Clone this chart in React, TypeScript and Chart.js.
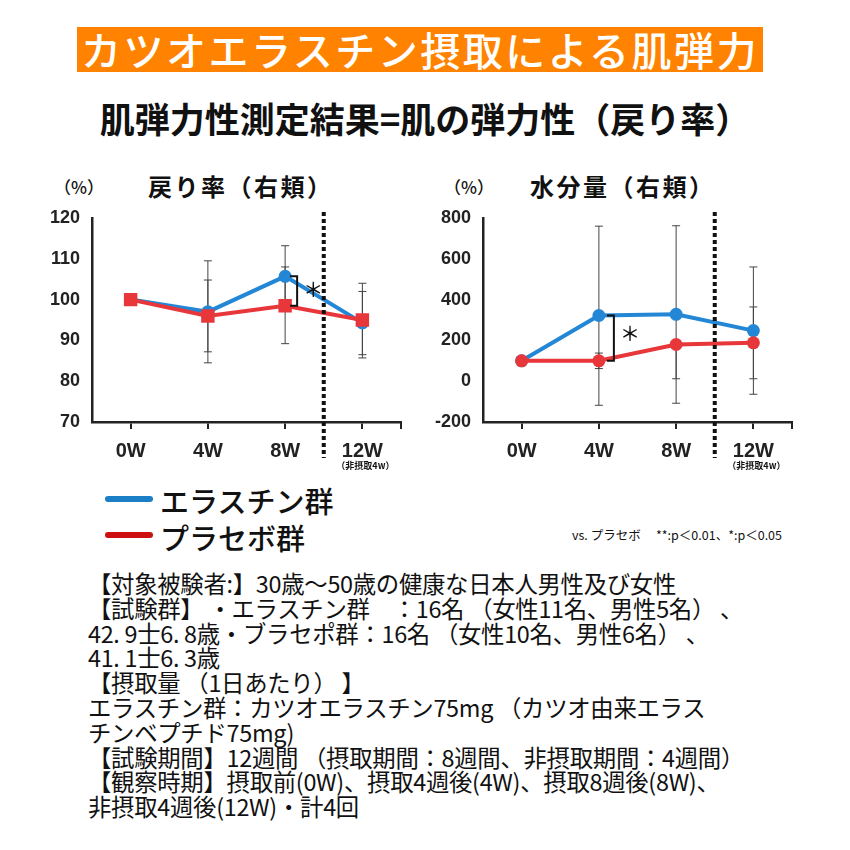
import React, { useEffect, useRef } from "react";
import { Chart, registerables } from "chart.js";
Chart.register(...registerables);

// ---------- data ----------
const weeks = ["0W", "4W", "8W", "12W"];

const reboundMin = 70;
const reboundMax = 120;
const reboundStep = 10;
const elastinRebound = [100, 97, 105.7, 94.3];
const elastinReboundHigh = [100, 109.5, 113.2, 104];
const elastinReboundLow = [100, 84.5, 98.2, 85.7];
const placeboRebound = [100, 96, 98.5, 95];
const placeboReboundHigh = [100, 104.8, 108, 102];
const placeboReboundLow = [100, 87.2, 89.2, 86.5];

const moistureMin = -200;
const moistureMax = 800;
const moistureStep = 200;
const elastinMoisture = [100, 322, 328, 248];
const elastinMoistureHigh = [100, 760, 762, 560];
const elastinMoistureLow = [100, -118, -108, -64];
const placeboMoisture = [100, 100, 180, 188];
const placeboMoistureHigh = [100, 138, 180, 364];
const placeboMoistureLow = [100, 62, 12, 12];

const seriesNames = ["エラスチン群", "プラセボ群"];
const offPeriodNote = "（非摂取4w）";

const BLUE = "#2387d6";
const RED = "#e8373b";
const AXIS_FONT = "'Liberation Sans', Arial, sans-serif";
const JP = "'Noto Sans CJK JP', 'Noto Sans', sans-serif";

const extrasPlugin = {
  id: "extras",
  beforeDatasetsDraw(chart: any, _args: any, opts: any) {
    const ctx = chart.ctx;
    const y = chart.scales.y;
    ctx.save();
    ctx.strokeStyle = "#444";
    ctx.lineWidth = 1;
    (opts.errors || []).forEach((err: any, di: number) => {
      const meta = chart.getDatasetMeta(di);
      meta.data.forEach((pt: any, j: number) => {
        const hi = y.getPixelForValue(err.high[j]);
        const lo = y.getPixelForValue(err.low[j]);
        const v = y.getPixelForValue(err.value[j]);
        const x = pt.x;
        ctx.beginPath();
        ctx.moveTo(x, hi);
        ctx.lineTo(x, lo);
        if (Math.abs(hi - v) > 0.5) {
          ctx.moveTo(x - 4, hi);
          ctx.lineTo(x + 4, hi);
        }
        if (Math.abs(lo - v) > 0.5) {
          ctx.moveTo(x - 4, lo);
          ctx.lineTo(x + 4, lo);
        }
        ctx.stroke();
      });
    });
    ctx.restore();
  },
  afterDatasetsDraw(chart: any, _args: any, opts: any) {
    const ctx = chart.ctx;
    const xs = chart.scales.x;
    const ys = chart.scales.y;
    const area = chart.chartArea;
    ctx.save();
    // divider between ingestion and non-ingestion period
    const dx = (xs.getPixelForValue(2) + xs.getPixelForValue(3)) / 2;
    ctx.strokeStyle = "#111";
    ctx.lineWidth = 4;
    ctx.setLineDash([4, 3]);
    ctx.beginPath();
    ctx.moveTo(dx, area.top - 6);
    ctx.lineTo(dx, area.bottom + 36);
    ctx.stroke();
    ctx.setLineDash([]);
    // end tick of x axis
    ctx.lineWidth = 2;
    ctx.strokeStyle = "#222";
    ctx.beginPath();
    ctx.moveTo(area.right, area.bottom);
    ctx.lineTo(area.right, area.bottom + 7);
    ctx.stroke();
    // significance bracket
    const b = opts.bracket;
    if (b) {
      const bx = xs.getPixelForValue(b.index) + b.dx;
      const y1 = ys.getPixelForValue(b.top);
      const y2 = ys.getPixelForValue(b.bottom);
      ctx.strokeStyle = "#111";
      ctx.lineWidth = 2;
      ctx.beginPath();
      ctx.moveTo(bx - 7, y1);
      ctx.lineTo(bx, y1);
      ctx.lineTo(bx, y2);
      ctx.lineTo(bx - 7, y2);
      ctx.stroke();
      ctx.fillStyle = "#111";
      ctx.font = "500 20px " + JP;
      ctx.textAlign = "left";
      ctx.textBaseline = "middle";
      ctx.fillText("＊", bx + 6, (y1 + y2) / 2 + b.dy);
    }
    // note under last label
    ctx.fillStyle = "#111";
    ctx.font = "bold 9px " + JP;
    ctx.textAlign = "center";
    ctx.textBaseline = "middle";
    ctx.fillText(offPeriodNote, xs.getPixelForValue(3) + 3, area.bottom + 44);
    ctx.restore();
  },
};

type Props = {
  left: number;
  top: number;
  blue: number[];
  blueHigh: number[];
  blueLow: number[];
  red: number[];
  redHigh: number[];
  redLow: number[];
  min: number;
  max: number;
  step: number;
  redStyle: string;
  redRadius: number;
  bracketIndex: number;
  bracketDx: number;
  bracketDy: number;
};

function LineChart(p: Props) {
  const ref = useRef<HTMLCanvasElement>(null);
  useEffect(() => {
    if (!ref.current) return;
    const xFont = { size: 20, weight: "bold" as const, family: AXIS_FONT };
    const yFont = { size: 18, weight: "bold" as const, family: AXIS_FONT };
    const chart = new Chart(ref.current, {
      type: "line",
      data: {
        labels: weeks,
        datasets: [
          {
            label: seriesNames[0],
            data: p.blue,
            borderColor: BLUE,
            backgroundColor: BLUE,
            borderWidth: 4,
            pointStyle: "circle",
            pointRadius: 6.5,
            pointBorderWidth: 0,
            tension: 0,
            order: 1,
          },
          {
            label: seriesNames[1],
            data: p.red,
            borderColor: RED,
            backgroundColor: RED,
            borderWidth: 4,
            pointStyle: p.redStyle as any,
            pointRadius: p.redRadius,
            pointBorderWidth: 0,
            tension: 0,
            order: 0,
          },
        ],
      },
      options: {
        animation: false,
        responsive: false,
        maintainAspectRatio: false,
        layout: { padding: { top: 18, right: 20, left: 0, bottom: 0 } },
        plugins: {
          legend: { display: false },
          tooltip: { enabled: false },
          extras: {
            errors: [
              { value: p.blue, high: p.blueHigh, low: p.blueLow },
              { value: p.red, high: p.redHigh, low: p.redLow },
            ],
            bracket: {
              index: p.bracketIndex,
              top: p.blue[p.bracketIndex],
              bottom: p.red[p.bracketIndex],
              dx: p.bracketDx,
              dy: p.bracketDy,
            },
          },
        } as any,
        scales: {
          x: {
            offset: true,
            grid: {
              display: true,
              drawOnChartArea: false,
              offset: false,
              tickLength: 7,
              color: "#222",
              lineWidth: 2,
            },
            border: { color: "#222", width: 2.5 },
            ticks: { font: xFont, color: "#222", padding: 10 },
            afterFit: (s: any) => {
              s.height = 48;
            },
          },
          y: {
            min: p.min,
            max: p.max,
            grid: { display: false },
            border: { color: "#222", width: 2.5 },
            ticks: { stepSize: p.step, font: yFont, color: "#222", padding: 4 },
            afterFit: (s: any) => {
              s.width = 62;
            },
          },
        },
      },
      plugins: [extrasPlugin],
    });
    return () => chart.destroy();
  }, []);
  return (
    <canvas
      ref={ref}
      width={391}
      height={270}
      style={{ position: "absolute", left: p.left, top: p.top, width: 391, height: 270 }}
    />
  );
}

const abs = (o: React.CSSProperties): React.CSSProperties => ({
  position: "absolute",
  whiteSpace: "nowrap",
  ...o,
});

const bodyLines = [
  "【対象被験者:】30歳～50歳の健康な日本人男性及び女性",
  "【試験群】 ・エラスチン群　：16名 （女性11名、男性5名） 、",
  "42. 9士6. 8歳・ブラセポ群：16名 （女性10名、男性6名） 、",
  "41. 1士6. 3歳",
  "【摂取量 （1日あたり） 】",
  "エラスチン群：カツオエラスチン75mg （カツオ由来エラス",
  "チンベプチド75mg)",
  "【試験期間】12週間 （摂取期間：8週間、非摂取期間：4週間）",
  "【観察時期】摂取前(0W)、摂取4週後(4W)、摂取8週後(8W)、",
  "非摂取4週後(12W)・計4回",
];

export default function App() {
  return (
    <div
      style={{
        position: "absolute",
        left: 0,
        top: 0,
        width: 850,
        height: 850,
        background: "#fff",
        overflow: "hidden",
        fontFamily: JP,
        color: "#111",
      }}
    >
      <div
        style={abs({
          left: 77,
          top: 27,
          width: 686,
          height: 45,
          background: "#ff8300",
          color: "#fff",
          fontSize: 40,
          fontWeight: 500,
          lineHeight: "45px",
          textAlign: "center",
          letterSpacing: 2.5,
        })}
      >
        カツオエラスチン摂取による肌弾力
      </div>
      <div
        style={abs({
          left: 60,
          top: 96,
          width: 730,
          textAlign: "center",
          fontSize: 35,
          fontWeight: 700,
          lineHeight: "44px",
        })}
      >
        肌弾力性測定結果=肌の弾力性（戻り率）
      </div>

      <div style={abs({ left: 54, top: 175, fontSize: 17, lineHeight: "24px", fontWeight: 500 })}>（%）</div>
      <div style={abs({ left: 148, top: 170, fontSize: 24, lineHeight: "32px", fontWeight: 700, letterSpacing: 2.5 })}>戻り率（右頬）</div>
      <div style={abs({ left: 444, top: 175, fontSize: 17, lineHeight: "24px", fontWeight: 500 })}>（%）</div>
      <div style={abs({ left: 530, top: 170, fontSize: 24, lineHeight: "32px", fontWeight: 700, letterSpacing: 2.5 })}>水分量（右頬）</div>

      <LineChart
        left={30}
        top={200}
        blue={elastinRebound}
        blueHigh={elastinReboundHigh}
        blueLow={elastinReboundLow}
        red={placeboRebound}
        redHigh={placeboReboundHigh}
        redLow={placeboReboundLow}
        min={reboundMin}
        max={reboundMax}
        step={reboundStep}
        redStyle="rect"
        redRadius={9.5}
        bracketIndex={2}
        bracketDx={12}
        bracketDy={-2}
      />
      <LineChart
        left={421}
        top={200}
        blue={elastinMoisture}
        blueHigh={elastinMoistureHigh}
        blueLow={elastinMoistureLow}
        red={placeboMoisture}
        redHigh={placeboMoistureHigh}
        redLow={placeboMoistureLow}
        min={moistureMin}
        max={moistureMax}
        step={moistureStep}
        redStyle="circle"
        redRadius={6.5}
        bracketIndex={1}
        bracketDx={15}
        bracketDy={-5}
      />

      <div style={abs({ left: 105, top: 496, width: 48, height: 6, borderRadius: 3, background: "#1a7fc6" })} />
      <div style={abs({ left: 105, top: 532, width: 48, height: 6, borderRadius: 3, background: "#cc1010" })} />
      <div style={abs({ left: 160, top: 482, fontSize: 29, lineHeight: "36px", fontWeight: 500 })}>{seriesNames[0]}</div>
      <div style={abs({ left: 160, top: 519, fontSize: 29, lineHeight: "36px", fontWeight: 500 })}>{seriesNames[1]}</div>
      <div style={abs({ left: 572, top: 526, fontSize: 12.5, lineHeight: "18px" })}>
        vs. プラセボ　 **:p＜0.01、*:p＜0.05
      </div>

      {bodyLines.map((t, i) => (
        <div
          key={i}
          style={abs({
            left: 88,
            top: 569 + i * 24.8,
            fontSize: 23.4,
            lineHeight: "28px",
            fontWeight: 400,
            letterSpacing: -0.3,
          })}
        >
          {t}
        </div>
      ))}
    </div>
  );
}
